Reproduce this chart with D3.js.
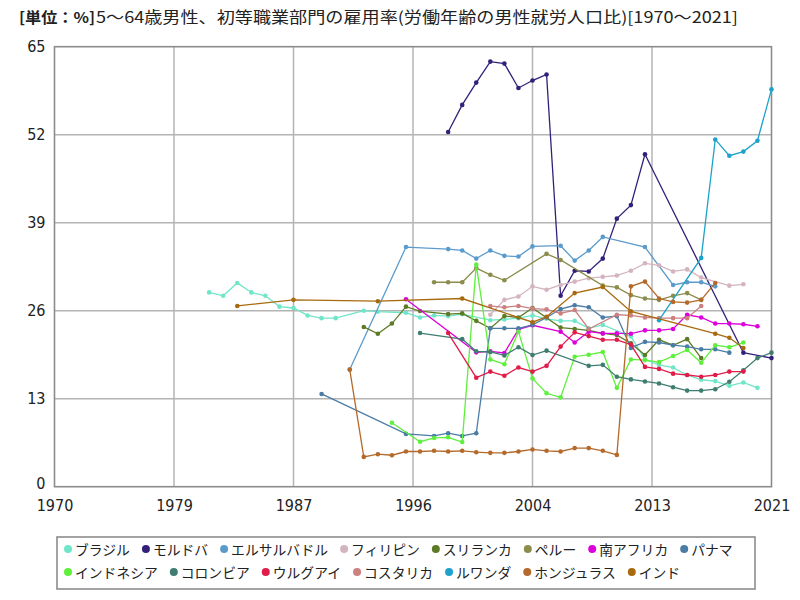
<!DOCTYPE html>
<html><head><meta charset="utf-8">
<script src="https://cdn.jsdelivr.net/npm/d3@7"></script>
<style>
html,body{margin:0;padding:0;background:#fff;}
svg{display:block;}
</style></head>
<body>
<svg id="chart" width="800" height="600"></svg>
<script>
// ---- data ----
const titleUnit = "[単位：%]";
const titleText = "5～64歳男性、初等職業部門の雇用率(労働年齢の男性就労人口比)[1970～2021]";
const xTickValues = [1970, 1978.5, 1987, 1995.5, 2004, 2012.5, 2021];
const xTickLabels = ["1970", "1979", "1987", "1996", "2004", "2013", "2021"];
const yTickValues = [0, 13, 26, 39, 52, 65];

const countries = ["ブラジル","モルドバ","エルサルバドル","フィリピン","スリランカ","ペルー","南アフリカ","パナマ",
  "インドネシア","コロンビア","ウルグアイ","コスタリカ","ルワンダ","ホンジュラス","インド"];
const colors = ["#70e6c8","#32207a","#5b9bcb","#d4b4be","#5e7a26","#8c8c4c","#dd00dd","#4a7ca6",
  "#5ef03c","#3f7d70","#e01c48","#cc8080","#1da2cc","#b46a2a","#a86a0e"];

const brazil = [[1981,28.7],[1982,28.2],[1983,30.1],[1984,28.7],[1985,28.2],[1986,26.6],[1987,26.4],[1988,25.3],[1989,24.9],[1990,24.9],[1992,26.0],[1993,25.85],[1995,25.7],[1996,25.0],[1997,25.3],[1998,25.2],[1999,25.5],[2001,24.6],[2002,24.7],[2003,24.9],[2004,25.3],[2005,24.8],[2006,24.5],[2007,24.5],[2008,23.4],[2009,23.9],[2011,22.2],[2012,18.8],[2013,18.0],[2014,17.6],[2015,16.5],[2016,15.8],[2017,15.6],[2018,14.9],[2019,15.4],[2020,14.6]];
const moldova = [[1998,52.4],[1999,56.4],[2000,59.7],[2001,62.8],[2002,62.5],[2003,58.9],[2004,60.0],[2005,60.9],[2006,28.2],[2007,31.9],[2008,31.8],[2009,33.7],[2010,39.6],[2011,41.6],[2012,49.1],[2019,19.8],[2021,19.0]];
const elSalvador = [[1991,17.3],[1995,35.4],[1998,35.1],[1999,34.9],[2000,33.7],[2001,34.9],[2002,34.1],[2003,34.0],[2004,35.5],[2006,35.6],[2007,33.4],[2008,34.9],[2009,36.9],[2012,35.4],[2014,29.8],[2015,30.2],[2016,30.2],[2017,29.6]];
const philippines = [[2001,25.4],[2002,27.6],[2003,28.1],[2004,29.6],[2005,29.1],[2006,29.8],[2007,30.3],[2008,30.8],[2009,31.0],[2010,31.2],[2011,31.9],[2012,33.0],[2013,32.7],[2014,31.8],[2015,32.1],[2016,30.9],[2018,29.7],[2019,29.9]];
const sriLanka = [[1992,23.6],[1993,22.6],[1994,24.1],[1995,26.6],[1996,25.95],[1998,25.5],[1999,25.6],[2000,24.5],[2001,23.4],[2002,25.2],[2003,25.0],[2004,26.4],[2006,23.5],[2007,23.3],[2008,23.1],[2009,22.65],[2010,22.4],[2011,21.2],[2012,19.45],[2013,21.7],[2014,20.9],[2015,21.8],[2016,19.0]];
const peru = [[1997,30.2],[1998,30.2],[1999,30.2],[2000,32.3],[2001,31.3],[2002,30.5],[2005,34.4],[2006,33.5],[2009,29.7],[2010,29.45],[2011,28.3],[2012,27.8],[2013,27.6],[2014,28.2],[2015,28.6],[2016,27.6]];
const southAfrica = [[1995,27.7],[2000,19.85],[2001,20.0],[2002,19.75],[2003,23.25],[2004,23.85],[2006,22.9],[2007,21.3],[2008,22.9],[2009,22.65],[2010,22.65],[2011,22.6],[2012,23.1],[2013,23.1],[2014,23.3],[2015,25.4],[2016,25.0],[2017,24.1],[2018,24.1],[2019,24.0],[2020,23.7]];
const panama = [[1989,13.7],[1995,7.8],[1997,7.5],[1998,7.9],[1999,7.5],[2000,7.9],[2001,23.4],[2002,23.4],[2003,23.4],[2004,23.9],[2005,25.0],[2006,26.25],[2007,26.8],[2008,26.5],[2009,25.0],[2010,25.2],[2011,20.5],[2012,21.4],[2013,21.3],[2014,20.9],[2015,20.7],[2016,20.3],[2017,20.3],[2018,19.8]];
const indonesia = [[1994,9.45],[1996,6.65],[1997,7.2],[1998,7.3],[1999,6.6],[2000,32.8],[2001,18.8],[2002,18.1],[2003,22.9],[2004,16.0],[2005,13.8],[2006,13.2],[2007,19.2],[2008,19.5],[2009,19.9],[2010,14.6],[2011,18.8],[2012,18.7],[2013,18.4],[2014,19.3],[2015,20.2],[2016,18.3],[2017,20.9],[2018,20.6],[2019,21.3]];
const colombia = [[1996,22.7],[1999,21.8],[2000,20.0],[2001,19.9],[2002,19.4],[2003,20.6],[2004,19.45],[2005,20.1],[2008,17.85],[2009,18.0],[2010,16.25],[2011,15.85],[2012,15.55],[2013,15.25],[2014,14.7],[2015,14.2],[2016,14.2],[2017,14.4],[2018,15.5],[2019,17.2],[2020,19.0],[2021,19.8]];
const uruguay = [[1998,22.7],[2000,16.1],[2001,17.0],[2002,16.4],[2003,17.6],[2004,17.0],[2005,17.85],[2006,20.7],[2007,22.8],[2008,22.25],[2009,21.7],[2010,21.7],[2011,21.0],[2012,17.7],[2013,17.4],[2014,16.7],[2015,16.5],[2016,16.25],[2017,16.5],[2018,17.0],[2019,17.0]];
const costaRica = [[2001,26.7],[2002,26.5],[2003,26.7],[2004,26.3],[2005,26.2],[2006,25.6],[2007,26.1],[2008,23.3],[2010,25.4],[2011,25.3],[2012,25.0],[2013,24.9],[2014,24.9],[2015,24.9],[2016,26.7]];
const rwanda = [[2013,24.6],[2016,33.8],[2017,51.3],[2018,48.9],[2019,49.5],[2020,51.1],[2021,58.7]];
const honduras = [[1991,17.3],[1992,4.4],[1993,4.8],[1994,4.65],[1995,5.2],[1996,5.2],[1997,5.3],[1998,5.2],[1999,5.3],[2000,5.1],[2001,5.0],[2002,5.0],[2003,5.2],[2004,5.5],[2005,5.3],[2006,5.2],[2007,5.7],[2008,5.7],[2009,5.3],[2010,4.7],[2011,29.6],[2012,30.3],[2013,27.8],[2014,27.3],[2015,27.2],[2016,27.6],[2017,30.1]];
const india = [[1983,26.7],[1987,27.6],[1993,27.4],[1999,27.8],[2004,24.3],[2005,25.1],[2007,28.6],[2009,29.5],[2011,25.9],[2017,22.6],[2018,22.0],[2019,20.5]];

const seriesData = [brazil, moldova, elSalvador, philippines, sriLanka, peru, southAfrica, panama,
  indonesia, colombia, uruguay, costaRica, rwanda, honduras, india];

// ---- layout ----
const svg = d3.select("#chart");
const plot = {left: 54.5, right: 771.5, top: 46.7, bottom: 486.7};
const x = d3.scaleLinear().domain([1970, 2021]).range([plot.left, plot.right]);
const y = d3.scaleLinear().domain([0, 65]).range([plot.bottom, plot.top]);
const axisFont = "'DejaVu Sans Condensed','DejaVu Sans',sans-serif";
const jpFont = "'Noto Sans CJK JP','Noto Sans CJK SC',sans-serif";

// title
svg.append("text").attr("x", 19).attr("y", 23)
  .attr("font-family", jpFont).attr("fill", "#222")
  .attr("font-size", 15).attr("font-weight", "bold")
  .attr("textLength", 76).attr("lengthAdjust", "spacingAndGlyphs").text(titleUnit);
svg.append("text").attr("x", 96).attr("y", 23)
  .attr("font-family", jpFont).attr("fill", "#222").attr("font-size", 15.5)
  .attr("textLength", 642).attr("lengthAdjust", "spacingAndGlyphs").text(titleText);

// gridlines
const grid = svg.append("g");
grid.selectAll("line.v").data(xTickValues.slice(1, -1)).enter().append("line")
  .attr("x1", d => x(d)).attr("x2", d => x(d)).attr("y1", plot.top).attr("y2", plot.bottom)
  .attr("stroke", "#b4b4b4").attr("stroke-width", 1.5);
grid.selectAll("line.h").data(yTickValues.slice(1, -1)).enter().append("line")
  .attr("x1", plot.left).attr("x2", plot.right).attr("y1", d => y(d)).attr("y2", d => y(d))
  .attr("stroke", "#b4b4b4").attr("stroke-width", 1.5);

// border
svg.append("rect").attr("x", plot.left).attr("y", plot.top)
  .attr("width", plot.right - plot.left).attr("height", plot.bottom - plot.top)
  .attr("fill", "none").attr("stroke", "#8c8c8c").attr("stroke-width", 1.6);

// axes (labels only, via d3 axes)
const xAxis = d3.axisBottom(x).tickValues(xTickValues).tickSize(0).tickPadding(13)
  .tickFormat((d, i) => xTickLabels[i]);
const gx = svg.append("g").attr("transform", `translate(0,${plot.bottom})`).call(xAxis);
gx.select(".domain").remove();
gx.selectAll("text").attr("font-family", axisFont).attr("font-size", 16).attr("fill", "#222");

const yAxis = d3.axisLeft(y).tickValues(yTickValues).tickSize(0).tickPadding(9)
  .tickFormat(d3.format("d"));
const gy = svg.append("g").attr("transform", `translate(${plot.left},0)`).call(yAxis);
gy.select(".domain").remove();
gy.selectAll("text").attr("font-family", axisFont).attr("font-size", 16).attr("fill", "#222");
gy.selectAll(".tick").filter(d => d === 0).select("text").attr("dy", "0.1em");

// series
const line = d3.line().x(d => x(d[0])).y(d => y(d[1]));
const gs = svg.append("g");
seriesData.forEach((data, i) => {
  const g = gs.append("g");
  g.append("path").datum(data).attr("d", line).attr("fill", "none")
    .attr("stroke", colors[i]).attr("stroke-width", 1.3);
  g.selectAll("circle").data(data).enter().append("circle")
    .attr("cx", d => x(d[0])).attr("cy", d => y(d[1])).attr("r", 2.3)
    .attr("fill", colors[i]);
});

// legend
const lg = svg.append("g");
lg.append("rect").attr("x", 57).attr("y", 537).attr("width", 698).attr("height", 52)
  .attr("fill", "#fff").attr("stroke", "#8c8c8c").attr("stroke-width", 1.6);
let lx = 68, ly = 549;
const fontSize = 13.8;
countries.forEach((name, i) => {
  const item = lg.append("g");
  const txt = item.append("text").attr("font-family", jpFont).attr("font-size", fontSize)
    .attr("fill", "#222").attr("dominant-baseline", "central").text(name);
  const w = txt.node().getComputedTextLength();
  if (lx + 8 + w > 754) { lx = 68; ly += 23; }
  item.append("circle").attr("cx", lx).attr("cy", ly).attr("r", 4).attr("fill", colors[i]);
  txt.attr("x", lx + 7).attr("y", ly);
  lx = lx + 7 + w + 16;
});
</script>
</body></html>
